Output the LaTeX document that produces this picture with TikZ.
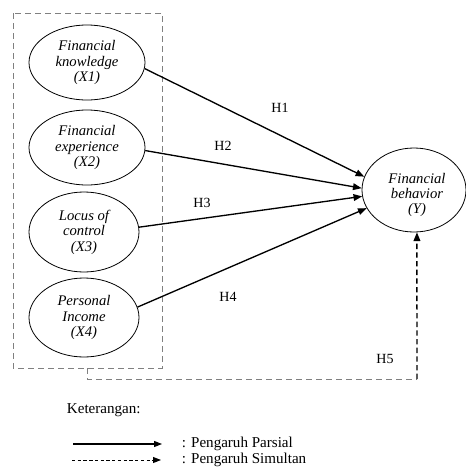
\documentclass[tikz,border=0pt]{standalone}
\usepackage{fontspec}
\setmainfont{Liberation Serif}
\usetikzlibrary{shapes.geometric,arrows.meta}

\tikzset{every picture/.style={line width=0.75pt}}
\tikzset{
  varell/.style={draw, ellipse, line width=0.6pt, inner sep=0pt, align=center, font=\fontsize{11}{11.6}\selectfont\itshape},
  hyparrow/.style={line width=1pt, -{Triangle[length=6.5pt,width=5pt]}},
  hyplabel/.style={font=\fontsize{10.5}{12}\selectfont},
  legtext/.style={anchor=west, font=\fontsize{11.3}{12}\selectfont}
}

\begin{document}
\begin{tikzpicture}[x=0.75pt,y=0.75pt,yscale=-1,xscale=1]
\useasboundingbox (0,0) rectangle (465,468);

%Shape: Dashed box round X
\draw [color={rgb, 255:red, 128; green, 128; blue, 128 }, dash pattern=on 4.5pt off 3pt] (13,13) rectangle (162,368);

% Ellipse nodes
\node [varell, minimum width=116*0.75pt, minimum height=75*0.75pt] (x1) at (87,62.5) {Financial\\knowledge\\(X1)};
\node [varell, minimum width=116*0.75pt, minimum height=75*0.75pt] (x2) at (87,147.5) {Financial\\experience\\(X2)};
\node [varell, minimum width=110*0.75pt, minimum height=80*0.75pt] (x3) at (84,232) {Locus of\\control\\(X3)};
\node [varell, minimum width=110*0.75pt, minimum height=79*0.75pt] (x4) at (84,317.5) {Personal\\Income\\(X4)};
\node [varell, minimum width=104*0.75pt, minimum height=84*0.75pt] (y) at (414,190) {};
% Text Node
\node [align=center, font=\fontsize{11}{11.6}\selectfont\itshape] (ytext) at (417,195) {Financial\\behavior\\(Y)};

%Straight Lines
\draw [hyparrow] (x1.-6) -- (y.165);
\draw [hyparrow] (x2.-3) -- (y.178);
\draw [hyparrow] (x3.5) -- (y.187);
\draw [hyparrow] (x4.11) -- (y.201);

%Simultaneous path
\coordinate (boxbot) at (87,368);
\coordinate (corner) at (417,379);
\draw [color={rgb, 255:red, 128; green, 128; blue, 128 }, dash pattern=on 4.5pt off 3pt] (boxbot) |- (corner);
\draw [line width=1.1pt, dash pattern=on 4pt off 2.5pt, -{Triangle[length=6.5pt,width=5pt]}] (corner) -- (y.-86);

% Text Node
\node [hyplabel] (h1) at (280,108) {H1};
% Text Node
\node [hyplabel] (h2) at (223,146) {H2};
% Text Node
\node [hyplabel] (h3) at (202,203) {H3};
% Text Node
\node [hyplabel] (h4) at (228,297) {H4};
% Text Node
\node [hyplabel] (h5) at (385,359) {H5};

% Legend
\node [legtext] (ket) at (62,410) {Keterangan:};
\coordinate (lga) at (73,444);
\coordinate (lgb) at (162,444);
\coordinate (lgc) at (72,460);
\coordinate (lgd) at (161,460);
\draw [line width=0.8pt, -{Triangle[length=6pt,width=4.5pt]}] (lga) -- (lgb);
\draw [line width=0.7pt, dash pattern=on 2.5pt off 1.8pt, -{Triangle[length=6pt,width=4.5pt]}] (lgc) -- (lgd);
\node [legtext] (parsial) at (177,444) {: Pengaruh Parsial};
\node [legtext] (simultan) at (177,460) {: Pengaruh Simultan};

\end{tikzpicture}
\end{document}
